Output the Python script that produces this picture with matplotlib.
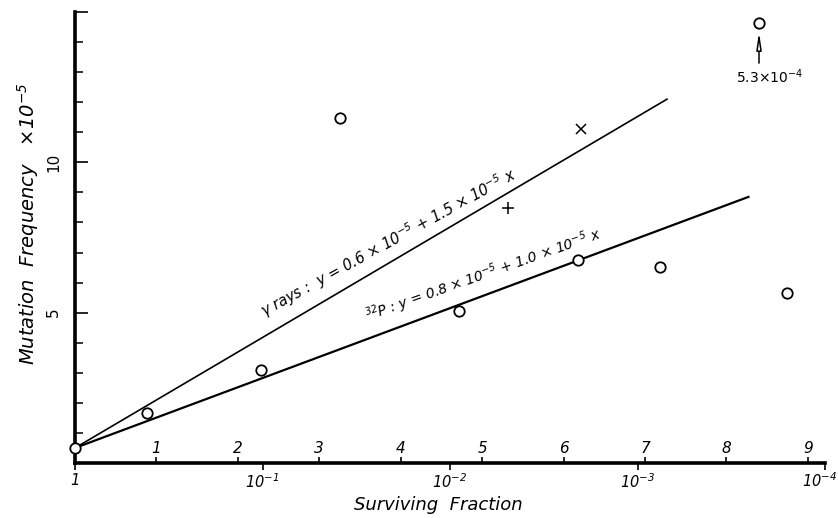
import numpy as np
import matplotlib
matplotlib.use('Agg')
import matplotlib.pyplot as plt

plt.rcParams['font.family'] = 'DejaVu Sans'
plt.rcParams['mathtext.default'] = 'regular'

# dose x (surviving fraction = e^-x) vs mutation frequency (x10^-5)
p32_x = [0.0, 0.89, 2.29, 3.26, 4.71, 6.18, 7.19, 8.74]
p32_y = [0.5, 1.65, 3.10, 11.47, 5.07, 6.74, 6.53, 5.64]
gamma_cross_x = [6.22]
gamma_cross_y = [11.12]
gamma_plus_x = [5.32]
gamma_plus_y = [8.49]
offscale_x = [8.40]
offscale_y = [14.64]
offscale_label = '5.3×10$^{-4}$'

# fitted lines as drawn
gamma_line_x = [0.0, 7.27]
gamma_line_y = [0.5, 12.1]
p32_line_x = [0.0, 8.27]
p32_line_y = [0.5, 8.85]

dose_ticks = [1, 2, 3, 4, 5, 6, 7, 8, 9]
decades = [0, 1, 2, 3, 4]
decade_labels = ['1', '10$^{-1}$', '10$^{-2}$', '10$^{-3}$', '10$^{-4}$']
y_major = [5, 10, 15]
y_major_labels = ['5', '10', '']
y_minor = [1, 2, 3, 4, 6, 7, 8, 9, 11, 12, 13, 14]

fig = plt.figure(figsize=(8.38, 5.18), dpi=100)
ax = fig.add_axes([75/838, 55/518, 750/838, 451/518])

xmax = 4*np.log(10)
ax.set_xlim(0, xmax)
ax.set_ylim(0, 15)

for s in ['top', 'right']:
    ax.spines[s].set_visible(False)
for s in ['left', 'bottom']:
    ax.spines[s].set_linewidth(2.6)

# fitted lines
ax.plot(gamma_line_x, gamma_line_y, color='black', lw=1.2)
ax.plot(p32_line_x, p32_line_y, color='black', lw=1.6)

# points
ax.plot(p32_x, p32_y, 'o', ms=7.5, mfc='white', mec='black', mew=1.3, zorder=5, clip_on=False)
ax.plot(gamma_cross_x, gamma_cross_y, 'x', ms=7, mec='black', mew=1.1, zorder=5)
ax.plot(gamma_plus_x, gamma_plus_y, '+', ms=9, mec='black', mew=1.1, zorder=5)
ax.plot(offscale_x, offscale_y, 'o', ms=7.5, mfc='white', mec='black', mew=1.3, zorder=5, clip_on=False)

ax.annotate('', xy=(offscale_x[0], 14.33), xytext=(offscale_x[0], 13.3),
            arrowprops=dict(arrowstyle='-|>,head_length=1.0,head_width=0.15', color='black',
                            lw=1.1, fc='white', shrinkA=0, shrinkB=0))
ax.text(8.53, 12.84, offscale_label, fontsize=10, ha='center', va='center')

# equations along the lines
ax.text(2.33, 4.82, r'$\gamma$ rays :  y = 0.6 × 10$^{-5}$ + 1.5 × 10$^{-5}$ $\it{x}$',
        fontsize=10.5, rotation=28.8, rotation_mode='anchor', ha='left', va='baseline',
        fontstyle='italic')
ax.text(3.60, 4.72, '$^{32}$P : y = 0.8 × 10$^{-5}$ + 1.0 × 10$^{-5}$ $\it{x}$',
        fontsize=10, rotation=19.5, rotation_mode='anchor', ha='left', va='baseline',
        fontstyle='italic')

# x axis: surviving fraction decades below, dose numbers above
ax.set_xticks([d*np.log(10) for d in decades], labels=decade_labels[:-1] + [''])
ax.set_xticks(dose_ticks, labels=[str(d) for d in dose_ticks], minor=True)
ax.tick_params(axis='x', which='major', direction='out', length=5, width=1.2, pad=2, labelsize=10.5)
ax.tick_params(axis='x', which='minor', direction='in', length=4.5, width=1.2, pad=-16, labelsize=11)
for lbl in ax.get_xticklabels() + ax.get_xticklabels(minor=True):
    lbl.set_fontstyle('italic')
# last decade label sits at the right edge
ax.annotate(decade_labels[-1], xy=(xmax, 0), xycoords=('data', 'axes fraction'),
            xytext=(9, -6), textcoords='offset points', ha='right', va='top',
            fontsize=10.5, fontstyle='italic')

# y axis
ax.set_yticks(y_major, labels=y_major_labels)
ax.set_yticks(y_minor, minor=True)
ax.tick_params(axis='y', which='major', direction='in', length=9.5, width=1.2, pad=10, labelsize=11)
ax.tick_params(axis='y', which='minor', direction='in', length=5.8, width=1.1)
for lbl in ax.get_yticklabels():
    lbl.set_rotation(90)
    lbl.set_va('center')
    lbl.set_ha('right')

ax.set_xlabel('Surviving  Fraction', fontsize=13, fontstyle='italic', va='center')
ax.xaxis.set_label_coords((438-75)/750, -(505-463)/451)
ax.set_ylabel('Mutation  Frequency   ×10$^{-5}$', fontsize=14, fontstyle='italic', va='center')
ax.yaxis.set_label_coords(-(75-28)/750, (463-224)/451)

fig.savefig('out.png', dpi=100)
